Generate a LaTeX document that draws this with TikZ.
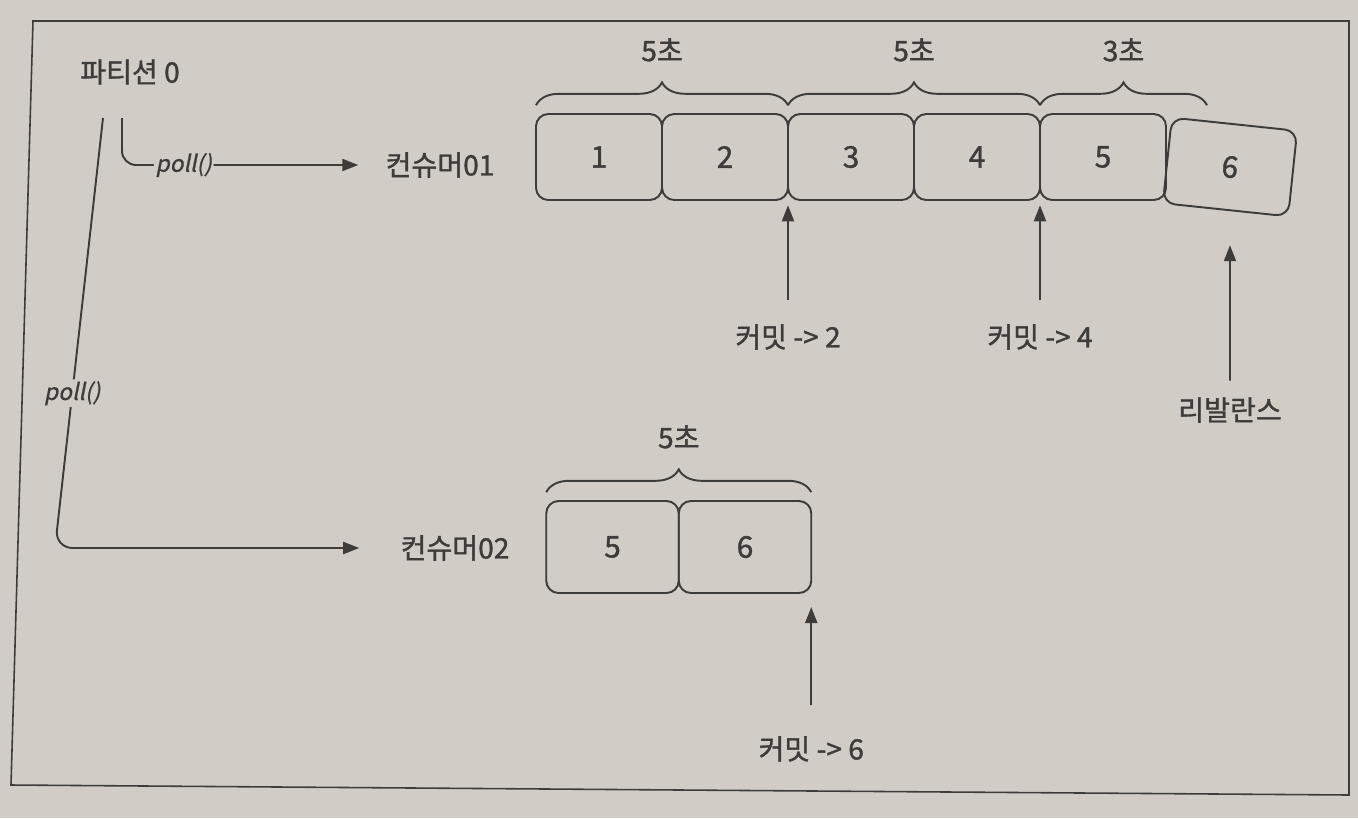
\documentclass[tikz,border=0pt]{standalone}
\usepackage{fontspec}
\setmainfont{Noto Sans CJK KR}[FakeBold=1.2]
\newfontfamily\slantfont{Noto Sans CJK KR}[FakeSlant=0.2,FakeBold=0.8]
\usepackage{tikz}
\usetikzlibrary{arrows.meta,positioning,decorations.pathreplacing,calc}
\definecolor{paper}{RGB}{209,205,198}
\definecolor{ink}{RGB}{62,60,58}

\begin{document}
\begin{tikzpicture}[
    node distance=0mm,
    cell/.style={draw=ink, line width=1.1pt, rounded corners=7pt, minimum width=2.52cm, minimum height=1.72cm,
                 inner sep=0pt, outer sep=0pt, text=ink, font=\fontsize{17}{20}\selectfont},
    lbl/.style={text=ink, font=\fontsize{16}{19}\selectfont},
    polltxt/.style={fill=paper, inner sep=1pt, text=ink, font=\slantfont\fontsize{13}{15}\selectfont},
    arr/.style={-{Triangle[length=3.2mm,width=2.4mm]}, draw=ink, line width=1.1pt},
    brc/.style={draw=ink, line width=1.1pt, decorate, decoration={brace, amplitude=13pt, raise=5pt}}
  ]
    %% ---- page and frame ----
    \fill[paper] (0,0) rectangle (27.16,-16.36);
    \useasboundingbox (0,0) rectangle (27.16,-16.36);
    \draw[ink, line width=0.9pt] (26.98,-0.42) -- (0.66,-0.42) -- (0.22,-15.7) -- (26.98,-15.9) -- cycle;

    %% ---- partition and consumers ----
    \node[lbl] (part) at (2.6,-1.44) {파티션 0};
    \node[lbl] (con1) at (8.8,-3.3)  {컨슈머01};
    \node[lbl] (con2) at (9.1,-10.96) {컨슈머02};

    \coordinate (tapL) at (2.06,-2.36);
    \coordinate (tapS) at (2.44,-2.36);
    \coordinate (bend) at (1.1,-10.96);

    \draw[arr, rounded corners=8pt, shorten >=12pt] (tapS) |- node[pos=0.62, polltxt]{poll()} (con1.west);
    \draw[arr, rounded corners=10pt, shorten >=20pt] (tapL) -- node[pos=0.64, polltxt]{poll()} (bend) -- (con2.west);

    %% ---- consumer01 records ----
    \node[cell] (b1) at (11.98,-3.14) {1};
    \node[cell, right=of b1] (b2) {2};
    \node[cell, right=of b2] (b3) {3};
    \node[cell, right=of b3] (b4) {4};
    \node[cell, right=of b4] (b5) {5};
    \node[cell, rotate=-6] (b6) at (24.6,-3.34) {6};

    \coordinate (cut) at (24.14,-3.0);
    \draw[brc] (b1.north west) -- node[above=26pt, lbl]{5초} (b2.north east);
    \draw[brc] (b3.north west) -- node[above=26pt, lbl]{5초} (b4.north east);
    \draw[brc] (b5.north west) -- node[above=26pt, lbl]{3초} (b5.north west -| cut);

    \node[lbl, below=2.36cm of b2.south east] (cm2) {커밋 -> 2};
    \node[lbl, below=2.36cm of b4.south east] (cm4) {커밋 -> 4};
    \node[lbl] (reb) at (24.6,-8.2) {리발란스};

    \draw[arr, shorten <=10pt, shorten >=3pt] (cm2.north) -- (b2.south east);
    \draw[arr, shorten <=10pt, shorten >=3pt] (cm4.north) -- (b4.south east);
    \draw[arr, shorten <=6pt, shorten >=0.7cm] (reb) -- (b6);

    %% ---- consumer02 records ----
    \node[cell, minimum width=2.65cm, minimum height=1.84cm] (c1) at (12.25,-10.94) {5};
    \node[cell, minimum width=2.65cm, minimum height=1.84cm, right=of c1] (c2) {6};

    \draw[brc] (c1.north west) -- node[above=26pt, lbl]{5초} (c2.north east);

    \node[lbl, below=2.74cm of c2.south east] (cm6) {커밋 -> 6};
    \draw[arr, shorten <=14pt, shorten >=8pt] (cm6.north) -- (c2.south east);
\end{tikzpicture}
\end{document}
